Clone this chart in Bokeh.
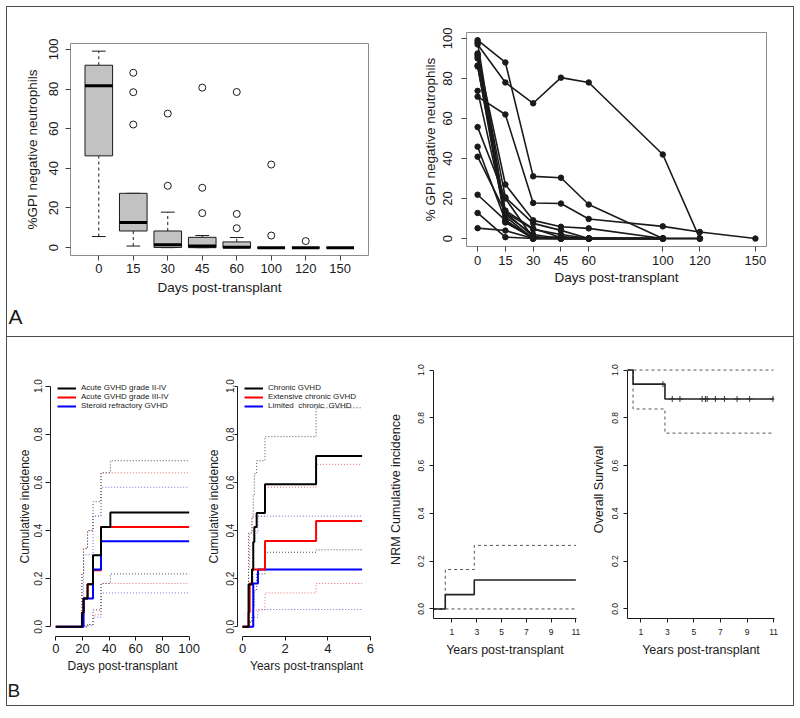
from bisect import bisect_right

from bokeh.plotting import figure
from bokeh.layouts import row, column
from bokeh.models import (Range1d, FixedTicker, NumeralTickFormatter, Title,
                          Legend, LegendItem)
from bokeh.embed import file_html
from bokeh.resources import INLINE

FONT = "Liberation Sans"
INK = "#1a1a1a"

# ---------------- Panel A : GPI-negative neutrophils ----------------
days = [0, 15, 30, 45, 60, 100, 120, 150]
day_labels = ["0", "15", "30", "45", "60", "100", "120", "150"]

box_q1 = [46.3, 8.4, 0.1, 0.0, 0.0, 0.0, 0.0, 0.0]
box_median = [81.7, 12.7, 1.5, 0.8, 0.2, 0.0, 0.0, 0.0]
box_q3 = [92.0, 27.4, 8.4, 5.2, 2.9, 0.0, 0.0, 0.0]
whisker_low = [5.6, 0.8, 0.0, 0.0, 0.0, 0.0, 0.0, 0.0]
whisker_high = [99.1, 27.4, 17.9, 6.1, 5.1, 0.0, 0.0, 0.0]
outlier_day_index = [1, 1, 1, 2, 2, 3, 3, 3, 4, 4, 4, 5, 5, 6]
outlier_value = [88.2, 78.4, 62.1, 67.6, 31.2, 80.7, 30.2, 17.4, 78.5, 17.0, 9.8, 41.9, 6.1, 3.3]

patient_01 = [97.0, 78.0, 67.6, 80.4, 78.0, 42.0, 0.0, None]
patient_02 = [99.1, 88.0, 31.1, 30.4, 17.0, 0.0, None, None]
patient_03 = [70.9, 62.0, 17.8, 17.5, 9.8, 6.1, 3.3, 0.0]
patient_04 = [91.9, 27.0, 9.1, 5.9, 5.1, 0.0, None, None]
patient_05 = [91.0, 20.6, 7.6, 4.1, 0.0, 0.0, None, None]
patient_06 = [86.0, 13.0, 4.6, 2.0, 0.0, 0.0, 0.0, None]
patient_07 = [73.8, 12.0, 2.0, 0.0, 0.0, 0.0, None, None]
patient_08 = [55.7, 20.0, 0.3, 0.0, 0.0, 0.0, None, None]
patient_09 = [45.9, 9.1, 0.0, 0.0, 0.0, None, None, None]
patient_10 = [40.9, 13.0, 1.0, 0.0, 0.0, 0.0, None, None]
patient_11 = [21.9, 9.1, 0.0, 1.0, 0.0, 0.0, None, None]
patient_12 = [12.8, 0.7, 0.0, 0.0, 0.0, 0.0, None, None]
patient_13 = [5.2, 4.0, 0.0, 0.0, 0.0, None, None, None]
patient_14 = [92.5, 8.4, 0.5, 0.0, 0.0, 0.0, 0.0, None]
patient_15 = [98.0, 11.0, 0.0, 0.0, 0.0, 0.0, None, None]
patient_16 = [90.0, 14.0, 5.0, 0.5, 0.0, None, None, None]
patient_17 = [86.5, 8.0, 0.2, 0.0, 0.0, 0.0, 0.0, None]
patients = [patient_01, patient_02, patient_03, patient_04, patient_05, patient_06,
            patient_07, patient_08, patient_09, patient_10, patient_11, patient_12,
            patient_13, patient_14, patient_15, patient_16, patient_17]

# ---------------- Panel B1 : acute GVHD (days) ----------------
agvhd24_days = [0, 19.6, 20.8, 23.8, 27.9, 33.9, 40.9, 100]
agvhd24_ci = [0, 0.059, 0.118, 0.177, 0.297, 0.415, 0.475, 0.475]
agvhd24_upper = [0, 0.22, 0.325, 0.40, 0.52, 0.64, 0.69, 0.69]
agvhd24_lower = [0, 0.0, 0.0, 0.01, 0.07, 0.18, 0.22, 0.22]
agvhd34_days = [0, 19.6, 20.8, 23.8, 27.9, 33.9, 100]
agvhd34_ci = [0, 0.059, 0.118, 0.177, 0.235, 0.415, 0.415]
agvhd34_upper = [0, 0.22, 0.325, 0.40, 0.46, 0.64, 0.64]
agvhd34_lower = [0, 0.0, 0.0, 0.01, 0.05, 0.18, 0.18]
srgvhd_days = [0, 20.8, 27.9, 33.9, 100]
srgvhd_ci = [0, 0.118, 0.238, 0.356, 0.356]
srgvhd_upper = [0, 0.30, 0.46, 0.58, 0.58]
srgvhd_lower = [0, 0.005, 0.04, 0.141, 0.141]

# ---------------- Panel B2 : chronic GVHD (years) ----------------
cgvhd_years = [0, 0.28, 0.44, 0.50, 0.55, 0.66, 1.05, 3.45, 5.61]
cgvhd_ci = [0, 0.176, 0.238, 0.353, 0.415, 0.473, 0.592, 0.71, 0.71]
cgvhd_upper = [0, 0.39, 0.45, 0.55, 0.636, 0.69, 0.79, 0.91, 0.91]
cgvhd_lower = [0, 0.02, 0.04, 0.08, 0.15, 0.22, 0.31, 0.32, 0.32]
ext_years = [0, 0.28, 0.33, 0.44, 1.05, 3.45, 5.61]
ext_ci = [0, 0.06, 0.18, 0.238, 0.357, 0.44, 0.44]
ext_upper = [0, 0.24, 0.39, 0.46, 0.58, 0.675, 0.675]
ext_lower = [0, 0.0, 0.02, 0.07, 0.141, 0.18, 0.18]
lim_years = [0, 0.50, 0.72, 5.61]
lim_ci = [0, 0.18, 0.238, 0.238]
lim_upper = [0, 0.39, 0.46, 0.46]
lim_lower = [0, 0.04, 0.072, 0.072]

# ---------------- Panel B3 : NRM ----------------
nrm_years = [-0.49, 0.46, 2.80, 11.0]
nrm_ci = [0, 0.06, 0.121, 0.121]
nrm_upper = [0, 0.165, 0.266, 0.266]
nrm_lower = [0, 0.0, 0.0, 0.0]

# ---------------- Panel B4 : overall survival ----------------
os_years = [0, 0.42, 2.82, 11.0]
os_surv = [1.0, 0.941, 0.879, 0.879]
os_upper = [1.0, 1.0, 1.0, 1.0]
os_lower = [1.0, 0.837, 0.736, 0.736]
os_censor_years = [2.67, 3.37, 3.95, 5.62, 5.87, 6.0, 6.62, 7.3, 8.25, 9.2, 10.95]

prob_ticks = [0.0, 0.2, 0.4, 0.6, 0.8, 1.0]


# ---------------- helpers ----------------
def make_fig(width, height, left, right, top, bottom, xr, yr):
    p = figure(width=width, height=height,
               x_range=Range1d(*xr), y_range=Range1d(*yr),
               output_backend="svg", toolbar_location=None,
               min_border_left=left, min_border_right=right,
               min_border_top=top, min_border_bottom=bottom)
    p.grid.visible = False
    p.background_fill_color = "white"
    p.border_fill_color = "white"
    p.outline_line_color = None
    return p


def style_axis(ax, ticks, tick_font, title_font, tick_out, label_standoff,
               title_standoff, vertical=False, line_color=INK, tick_color=INK,
               bounds=None, fmt=None, overrides=None):
    ax.ticker = FixedTicker(ticks=ticks, minor_ticks=[])
    ax.major_label_text_font = FONT
    ax.major_label_text_font_size = tick_font
    ax.major_label_text_color = INK
    ax.axis_label_text_font = FONT
    ax.axis_label_text_font_size = title_font
    ax.axis_label_text_font_style = "normal"
    ax.axis_label_text_color = INK
    ax.major_tick_out = tick_out
    ax.major_tick_in = 0
    ax.minor_tick_out = 0
    ax.minor_tick_in = 0
    ax.major_tick_line_color = tick_color
    ax.axis_line_color = line_color
    ax.major_label_standoff = label_standoff
    ax.axis_label_standoff = title_standoff
    if vertical:
        ax.major_label_orientation = "vertical"
    if bounds is not None:
        ax.bounds = bounds
    if fmt is not None:
        ax.formatter = fmt
    if overrides is not None:
        ax.major_label_overrides = overrides


def panel_letter(p, text, offset, standoff, size):
    p.add_layout(Title(text=text, align="left", offset=offset, standoff=standoff,
                       text_font=FONT, text_font_size=size, text_font_style="normal",
                       text_color=INK), "below")


def steps(p, t, y, color, width, dash="solid"):
    return p.step(t, y, mode="after", line_color=color, line_width=width, line_dash=dash)


def step_value(times, values, t):
    return values[max(bisect_right(times, t) - 1, 0)]


DOT_K, DOT_R, DOT_B = "#4a4a4a", "#e86a6a", "#6f6fe0"

# ---------------- A1 : boxplot ----------------
pos = [i + 1 for i in range(len(days))]
a1 = make_fig(392, 329, 63, 31, 36, 81, (0.18, 8.82), (-3.96, 102.96))
a1.outline_line_color = "#8c8c8c"
a1.segment(x0=pos, x1=pos, y0=box_q3, y1=whisker_high, line_color=INK, line_width=1, line_dash="3 3")
a1.segment(x0=pos, x1=pos, y0=whisker_low, y1=box_q1, line_color=INK, line_width=1, line_dash="3 3")
a1.segment(x0=[x - 0.2 for x in pos], x1=[x + 0.2 for x in pos], y0=whisker_high, y1=whisker_high,
           line_color=INK, line_width=1)
a1.segment(x0=[x - 0.2 for x in pos], x1=[x + 0.2 for x in pos], y0=whisker_low, y1=whisker_low,
           line_color=INK, line_width=1)
a1.vbar(x=pos, bottom=box_q1, top=box_q3, width=0.8, fill_color="#c2c2c2", line_color=INK, line_width=1)
a1.segment(x0=[x - 0.4 for x in pos], x1=[x + 0.4 for x in pos], y0=box_median, y1=box_median,
           line_color="#000000", line_width=3)
a1.scatter(x=[pos[i] for i in outlier_day_index], y=outlier_value, marker="circle", size=7,
           fill_color=None, line_color=INK, line_width=1)
a1.xaxis.axis_label = "Days post-transplant"
a1.yaxis.axis_label = "%GPI negative neutrophils"
style_axis(a1.xaxis[0], pos, "13px", "13.5px", 5, 3, 4, line_color=None, tick_color="#444",
           overrides={p_: lbl for p_, lbl in zip(pos, day_labels)})
style_axis(a1.yaxis[0], [0, 20, 40, 60, 80, 100], "13px", "13.5px", 5, 7, 7, vertical=True,
           line_color=None, tick_color="#444")
panel_letter(a1, "A", -62, 11, "21px")

# ---------------- A2 : individual trajectories ----------------
a2 = make_fig(394, 329, 67, 27, 25, 90, (-6, 156), (-3.96, 102.96))
a2.outline_line_color = "#8c8c8c"
for series in patients:
    xs = [d for d, v in zip(days, series) if v is not None]
    ys = [v for v in series if v is not None]
    a2.line(xs, ys, line_color=INK, line_width=1.6)
    a2.scatter(xs, ys, marker="circle", size=5.5, color=INK)
a2.xaxis.axis_label = "Days post-transplant"
a2.yaxis.axis_label = "% GPI negative neutrophils"
style_axis(a2.xaxis[0], days, "13px", "13.5px", 5, 4, 2, line_color=None, tick_color="#444")
style_axis(a2.yaxis[0], [0, 20, 40, 60, 80, 100], "13px", "13.5px", 5, 9, 3, vertical=True,
           line_color=None, tick_color="#444")

# ---------------- B1 : acute GVHD ----------------
b1 = make_fig(196, 368, 43, 9, 39, 69, (-4, 104), (-0.04, 1.04))
for t, lo, hi, col in [(agvhd34_days, agvhd34_lower, agvhd34_upper, DOT_R),
                       (srgvhd_days, srgvhd_lower, srgvhd_upper, DOT_B),
                       (agvhd24_days, agvhd24_lower, agvhd24_upper, DOT_K)]:
    steps(b1, t, hi, col, 1, "1 2")
    steps(b1, t, lo, col, 1, "1 2")
r_a34 = steps(b1, agvhd34_days, agvhd34_ci, "#ff0000", 2)
r_sr = steps(b1, srgvhd_days, srgvhd_ci, "#0000ff", 2)
r_a24 = steps(b1, agvhd24_days, agvhd24_ci, "#000000", 2)
b1.xaxis.axis_label = "Days post-transplant"
b1.yaxis.axis_label = "Cumulative incidence"
style_axis(b1.xaxis[0], [0, 20, 40, 60, 80, 100], "13px", "12px", 4, 3, 3, bounds=(0, 100))
style_axis(b1.yaxis[0], prob_ticks, "10px", "12px", 5, 3, 0, vertical=True, bounds=(0, 1),
           fmt=NumeralTickFormatter(format="0.0"))
leg1 = Legend(items=[LegendItem(label="Acute GVHD grade II-IV", renderers=[r_a24]),
                     LegendItem(label="Acute GVHD grade III-IV", renderers=[r_a34]),
                     LegendItem(label="Steroid refractory GVHD", renderers=[r_sr])],
              location="top_left")
b1.add_layout(leg1)
panel_letter(b1, "B", -43, 4, "19px")

# ---------------- B2 : chronic GVHD ----------------
b2 = make_fig(180, 368, 34, 8, 39, 69, (-0.24, 6.24), (-0.04, 1.04))
for t, lo, hi, col in [(ext_years, ext_lower, ext_upper, DOT_R),
                       (lim_years, lim_lower, lim_upper, DOT_B),
                       (cgvhd_years, cgvhd_lower, cgvhd_upper, DOT_K)]:
    steps(b2, t, hi, col, 1, "1 2")
    steps(b2, t, lo, col, 1, "1 2")
r_lim = steps(b2, lim_years, lim_ci, "#0000ff", 2)
r_ext = steps(b2, ext_years, ext_ci, "#ff0000", 2)
r_cg = steps(b2, cgvhd_years, cgvhd_ci, "#000000", 2)
b2.xaxis.axis_label = "Years post-transplant"
b2.yaxis.axis_label = "Cumulative incidence"
style_axis(b2.xaxis[0], [0, 2, 4, 6], "13px", "12px", 4, 3, 3, bounds=(0, 6))
style_axis(b2.yaxis[0], prob_ticks, "10px", "12px", 3, 0, 3, vertical=True, bounds=(0, 1),
           fmt=NumeralTickFormatter(format="0.0"))
leg2 = Legend(items=[LegendItem(label="Chronic GVHD", renderers=[r_cg]),
                     LegendItem(label="Extensive chronic GVHD", renderers=[r_ext]),
                     LegendItem(label="Limited  chronic  GVHD", renderers=[r_lim])],
              location="top_left")
b2.add_layout(leg2)

for leg in (leg1, leg2):
    leg.glyph_width = 19
    leg.glyph_height = 8
    leg.label_height = 8
    leg.label_standoff = 5
    leg.spacing = 0
    leg.padding = 0
    leg.margin = 7
    leg.border_line_color = None
    leg.background_fill_alpha = 0
    leg.label_text_font = FONT
    leg.label_text_font_size = "8px"
    leg.label_text_color = INK

# ---------------- B3 : NRM ----------------
b3 = make_fig(205, 368, 50, 12, 23, 87, (-0.49, 11.05), (-0.04, 1.04))
steps(b3, nrm_years, nrm_upper, "#555555", 1, "3 3")
steps(b3, nrm_years, nrm_lower, "#555555", 1, "3 3")
steps(b3, nrm_years, nrm_ci, "#222222", 1.6)
b3.xaxis.axis_label = "Years post-transplant"
b3.yaxis.axis_label = "NRM Cumulative incidence"
style_axis(b3.xaxis[0], [1, 3, 5, 7, 9, 11], "8.5px", "12.5px", 4, 6, 5)
style_axis(b3.yaxis[0], prob_ticks, "8.5px", "12.5px", 4, 5, 13, vertical=True, bounds=(-0.04, 1.0),
           fmt=NumeralTickFormatter(format="0.0"))

# ---------------- B4 : overall survival ----------------
b4 = make_fig(205, 368, 39, 19, 23, 87, (0, 11.07), (-0.04, 1.04))
steps(b4, os_years, os_upper, "#555555", 1, "3 3")
steps(b4, os_years, os_lower, "#555555", 1, "3 3")
steps(b4, os_years, os_surv, "#222222", 1.6)
b4.scatter(x=os_censor_years, y=[step_value(os_years, os_surv, t) for t in os_censor_years],
           marker="cross", size=6, line_color="#333333", line_width=1)
b4.xaxis.axis_label = "Years post-transplant"
b4.yaxis.axis_label = "Overall Survival"
style_axis(b4.xaxis[0], [1, 3, 5, 7, 9, 11], "8.5px", "12.5px", 4, 6, 5)
style_axis(b4.yaxis[0], prob_ticks, "8.5px", "12.5px", 4, 5, 4, vertical=True, bounds=(-0.04, 1.0),
           fmt=NumeralTickFormatter(format="0.0"))

# each figure sits in its own column so that the row does not align their frames
top = row(column(a1), column(a2), styles={"border": "1px solid #4d4d4d"})
bottom = row(column(b1), column(b2), column(b3), column(b4),
             styles={"border": "1px solid #4d4d4d", "border-top": "none"})
page = column(top, bottom, styles={"margin-left": "6px", "margin-top": "6px"})

open("out.html", "w").write(file_html(page, INLINE))
